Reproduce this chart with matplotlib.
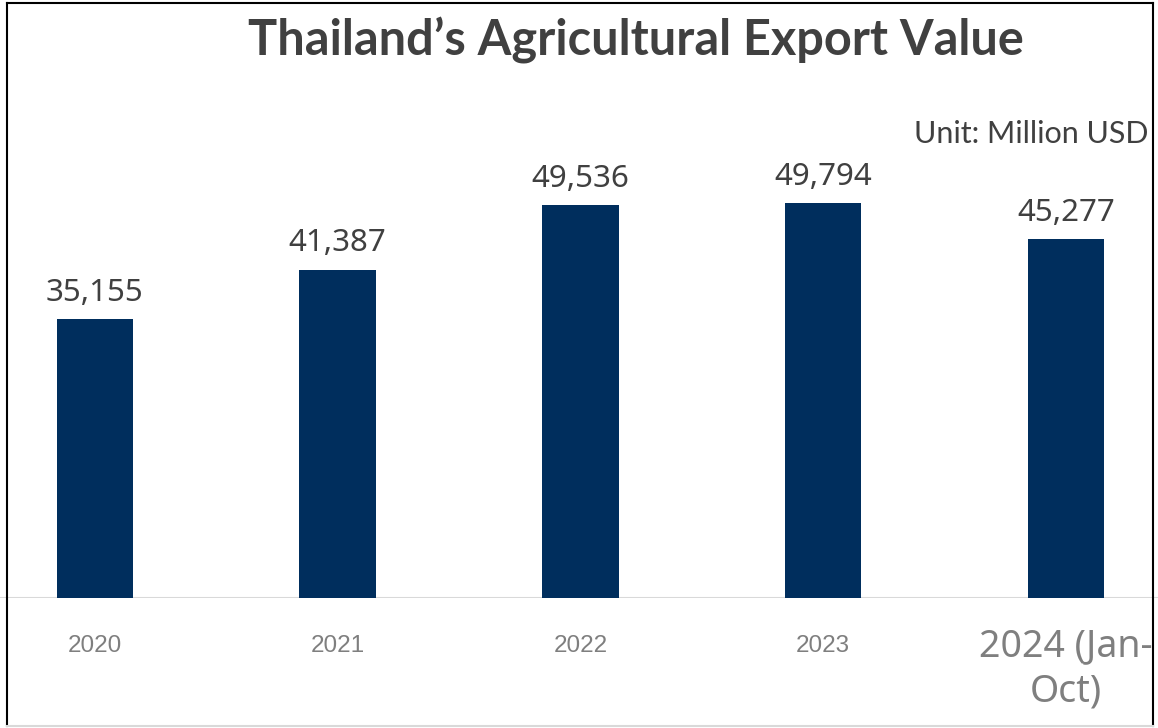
import matplotlib.pyplot as plt
from matplotlib.lines import Line2D

# data
years = ["2020", "2021", "2022", "2023", "2024 (Jan-\nOct)"]
export_value = [35155, 41387, 49536, 49794, 45277]

bar_color = "#002e5d"
text_dark = "#404040"
tick_gray = "#7f7f7f"

fig = plt.figure(figsize=(11.58, 7.28), dpi=100)
ax = fig.add_axes([0, 0.1786, 1, 0.6841])

x = range(len(years))
bars = ax.bar(x, export_value, width=0.315, color=bar_color, zorder=3)

ax.set_xlim(-0.391, 4.379)
ax.set_ylim(0, 62750)
ax.axhline(0, color="#d9d9d9", lw=1.5, zorder=2)

for s in ax.spines.values():
    s.set_visible(False)
ax.set_yticks([])
ax.set_xticks(list(x))
ax.set_xticklabels(years)
ax.tick_params(axis="x", length=0, pad=27, colors=tick_gray)
for i, lbl in enumerate(ax.get_xticklabels()):
    if i < 4:
        lbl.set_fontfamily("Liberation Sans")
        lbl.set_fontsize(17.5)
    else:
        lbl.set_fontfamily("Noto Sans")
        lbl.set_fontsize(27)
        lbl.set_linespacing(1.25)
        lbl.set_y(0.016)

# value labels
for rect, v in zip(bars, export_value):
    ax.annotate(f"{v:,}", (rect.get_x() + rect.get_width() / 2, v),
                xytext=(0, 8), textcoords="offset points",
                ha="center", va="bottom", fontsize=22.5,
                family="Noto Sans", color=text_dark)

fig.text(636 / 1158, 1 - 41 / 728, "Thailand\u2019s Agricultural Export Value",
         ha="center", va="center", fontsize=35, fontweight="bold",
         family="Lato", color=text_dark)
fig.text(1149 / 1158, 1 - 134 / 728, "Unit: Million USD", ha="right",
         va="center", fontsize=22, family="Lato", color=text_dark)

# frame around the chart
W, H = 1158, 728
def fx(px): return px / W
def fy(py): return 1 - py / H
fig.add_artist(Line2D([fx(7), fx(7)], [fy(3), fy(726)], color="black", lw=1.5))
fig.add_artist(Line2D([fx(7), fx(1153)], [fy(3), fy(3)], color="black", lw=1.5))
fig.add_artist(Line2D([fx(1153), fx(1153)], [fy(3), fy(726)], color="black", lw=1.5))
fig.add_artist(Line2D([fx(7), fx(1153)], [fy(726), fy(726)], color="#d9d9d9", lw=1.5))

fig.savefig("out.png", dpi=100)
